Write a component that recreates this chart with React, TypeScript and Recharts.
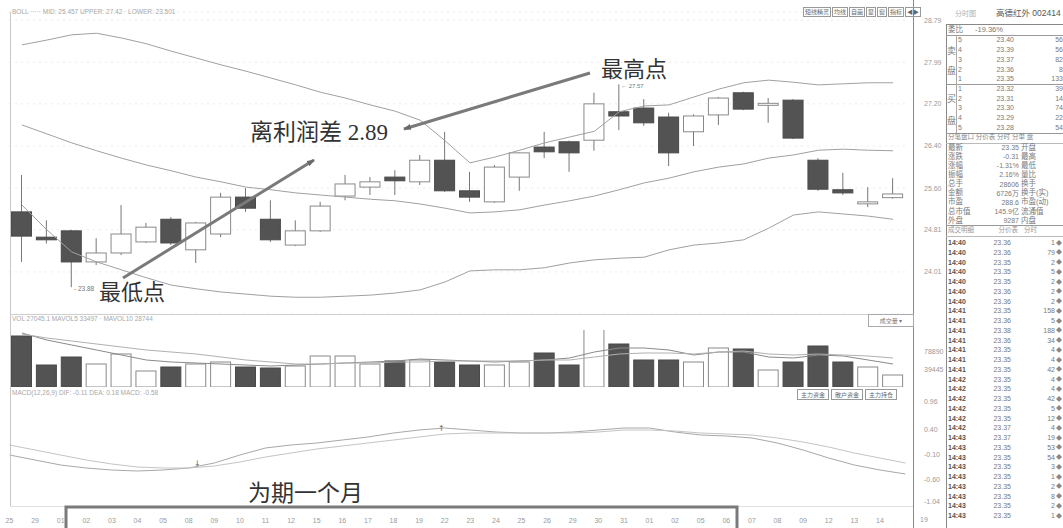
import React from 'react';
import { ComposedChart, Bar, Line, XAxis, YAxis, CartesianGrid } from 'recharts';

// ---------- data ----------
const dates = ["25","29","01","02","03","04","05","08","09","10","11","12","15","16","17","18","19","22","23","24","25","26","29","30","31","01","02","05","06","07","08","09","12","13","14",""];
const opens = [25.15,24.67,24.79,24.20,24.37,24.58,25.01,24.43,24.73,25.43,25.01,24.52,24.79,25.45,25.62,25.81,25.72,26.13,25.55,25.34,25.81,26.38,26.48,26.51,27.05,27.12,26.95,26.67,26.99,27.41,27.19,27.27,26.13,25.57,25.32,25.42];
const closes = [24.69,24.62,24.20,24.37,24.73,24.86,24.56,24.94,25.43,25.22,24.62,24.79,25.26,25.68,25.72,25.74,26.13,25.55,25.43,26.00,26.27,26.29,26.27,27.20,26.97,26.84,26.27,26.97,27.31,27.10,27.21,26.55,25.58,25.51,25.34,25.49];
const highs = [25.85,24.99,24.81,24.65,25.28,24.94,25.05,24.96,25.51,25.60,25.37,24.99,25.34,25.85,25.81,25.94,26.23,26.67,25.91,26.04,26.28,26.67,26.50,27.41,27.57,27.29,27.03,27.00,27.33,27.43,27.31,27.29,26.17,25.89,25.62,25.79];
const lows = [24.20,24.55,23.72,24.14,24.33,24.56,24.52,24.18,24.67,25.15,24.58,24.50,24.77,25.37,25.47,25.47,25.66,25.53,25.34,25.32,25.55,26.17,25.91,26.31,26.70,26.78,26.02,26.40,26.80,27.08,26.84,26.53,25.55,25.47,25.24,25.40];
const upperBand = [28.32,28.41,28.51,28.54,28.45,28.34,28.20,28.07,27.94,27.82,27.69,27.56,27.42,27.31,27.18,27.06,26.89,26.50,26.08,26.19,26.32,26.46,26.57,26.68,27.05,27.16,27.18,27.33,27.48,27.60,27.65,27.61,27.56,27.58,27.60,27.60];
const midBand = [26.80,26.63,26.46,26.31,26.17,26.04,25.93,25.81,25.72,25.62,25.57,25.51,25.47,25.43,25.39,25.36,25.30,25.22,25.13,25.15,25.19,25.28,25.36,25.45,25.57,25.70,25.79,25.91,26.00,26.06,26.17,26.23,26.32,26.34,26.32,26.31];
const lowerBand = [25.28,24.81,24.39,24.20,24.05,23.90,23.76,23.69,23.63,23.59,23.55,23.53,23.53,23.55,23.57,23.61,23.67,23.82,24.03,24.05,24.05,24.09,24.18,24.24,24.27,24.29,24.43,24.52,24.56,24.62,24.84,25.09,25.15,25.11,25.07,25.01];
const volumes = [114950,49590,67620,51840,74380,36060,45080,51840,56350,45080,42830,47330,69870,69870,51840,58600,60860,56350,49590,49590,56350,76640,49590,137490,96920,60860,60860,56350,87910,85650,38320,56350,92410,56350,45080,27045];
const mavol5 = [121716,105938,94668,83398,72128,60858,56350,54096,51842,49588,47334,49588,51842,54096,56350,58604,63112,60858,58604,56350,58604,60858,65366,78890,87906,87906,83398,72128,78890,78890,67620,65366,72128,69874,60858,51842];
const mavol10 = [119462,110446,103684,96922,90160,83398,78890,74382,67620,60858,56350,51842,51842,54096,54096,56350,56350,58604,58604,58604,58604,60858,60858,67620,74382,76636,76636,74382,78890,81144,74382,72128,74382,72128,69874,65366];
const difLine = [-0.10,-0.20,-0.30,-0.36,-0.40,-0.42,-0.40,-0.36,-0.26,-0.10,0.04,0.10,0.14,0.20,0.26,0.34,0.40,0.44,0.40,0.36,0.34,0.34,0.36,0.40,0.44,0.44,0.36,0.30,0.28,0.24,0.14,0.00,-0.16,-0.30,-0.40,-0.48];
const deaLine = [0.10,0.00,-0.10,-0.20,-0.28,-0.34,-0.36,-0.36,-0.32,-0.24,-0.14,-0.06,0.02,0.08,0.14,0.20,0.26,0.32,0.34,0.34,0.34,0.34,0.34,0.36,0.40,0.40,0.38,0.34,0.32,0.30,0.24,0.16,0.06,-0.06,-0.16,-0.26];

const priceTicks = [24.01, 24.81, 25.60, 26.40, 27.20, 27.99, 28.79];
const volTicks = [39445, 78890];
const macdTicks = [0.96, 0.40, -0.10, -0.60, -1.04];

const sellOrders = [["5","23.40","56"],["4","23.39","56"],["3","23.37","82"],["2","23.36","8"],["1","23.35","133"]];
const buyOrders = [["1","23.32","39"],["2","23.31","14"],["3","23.30","74"],["4","23.29","22"],["5","23.28","54"]];
const statRows = [["最新","23.35","开盘"],["涨跌","-0.31","最高"],["涨幅","-1.31%","最低"],["振幅","2.16%","量比"],["总手","28606","换手"],["金额","6726万","换手(实)"],["市盈","288.6","市盈(动)"],["总市值","145.9亿","流通值"],["外盘","9287","内盘"]];
const tradeRows = [
  ["14:40","23.36","1"],["14:40","23.36","79"],["14:40","23.35","2"],["14:40","23.35","5"],["14:40","23.35","2"],
  ["14:40","23.36","2"],["14:40","23.36","2"],["14:41","23.35","158"],["14:41","23.36","5"],["14:41","23.38","188"],
  ["14:41","23.36","34"],["14:41","23.35","4"],["14:41","23.35","4"],["14:41","23.35","42"],["14:42","23.35","4"],
  ["14:42","23.35","4"],["14:42","23.35","42"],["14:42","23.35","5"],["14:42","23.35","12"],["14:42","23.37","4"],
  ["14:43","23.37","19"],["14:43","23.35","53"],["14:43","23.35","54"],["14:43","23.35","3"],["14:43","23.35","1"],
  ["14:43","23.35","2"],["14:43","23.35","8"],["14:43","23.35","2"],["14:43","23.35","1"]
];
const toolButtons = ["短线精灵","均线","自画","复","窗","指标","◀▶"];
const macdButtons = ["主力资金","散户资金","主力持仓"];

const rows = dates.map((d, i) => ({
  label: d,
  open: opens[i], close: closes[i], high: highs[i], low: lows[i],
  range: [lows[i], highs[i]],
  upper: upperBand[i], mid: midBand[i], lower: lowerBand[i],
  vol: volumes[i], ma5: mavol5[i], ma10: mavol10[i],
  dif: difLine[i], dea: deaLine[i],
}));

// ---------- shapes ----------
const DARK = '#535353';
const Candle = (props: any) => {
  const { x, y, width, height, payload } = props;
  if (x == null || y == null) return null;
  const top = Math.min(y, y + height);
  const h = Math.abs(height);
  const { open, close, high, low } = payload;
  const span = high - low;
  const py = (v: number) => (span > 0 ? top + ((high - v) / span) * h : top);
  const cx = x + width / 2;
  const bTop = py(Math.max(open, close));
  const bBot = py(Math.min(open, close));
  const bh = Math.max(bBot - bTop, 2);
  const up = close >= open;
  return (
    <g>
      <line x1={cx} x2={cx} y1={top} y2={top + h} stroke="#777" strokeWidth={1} />
      <rect x={x} y={bTop} width={width} height={bh} fill={up ? '#fff' : DARK} stroke={up ? '#8a8a8a' : '#4a4a4a'} strokeWidth={1} />
    </g>
  );
};
const VolBar = (props: any) => {
  const { x, y, width, height, payload } = props;
  if (x == null || y == null) return null;
  const up = payload.close >= payload.open;
  const top = Math.min(y, y + height);
  return <rect x={x} y={top} width={width} height={Math.abs(height)} fill={up ? '#fff' : DARK} stroke={up ? '#8a8a8a' : '#4a4a4a'} strokeWidth={1} />;
};

// plot spans x 9.5 .. 905.5 ; right axis line drawn at 913
const ML = 9.5;
const YW = 39.5;
const YTM = 12.5;
const tickStyle = { fontSize: 7, fill: '#9a9a9a', fontFamily: 'Liberation Sans, DejaVu Sans, sans-serif' };

const Txt = ({ x, y, children, size = 7, color = '#7a7a7a', right = false, weight = 400, family }: any) => (
  <div style={{
    position: 'absolute', top: y - size * 0.55, lineHeight: 1, fontSize: size, color, whiteSpace: 'nowrap', fontWeight: weight,
    fontFamily: family || 'Liberation Sans, "Noto Sans CJK SC", sans-serif',
    ...(right ? { right: 1063 - x } : { left: x }),
  }}>{children}</div>
);

const HLine = ({ x1, x2, y, color = '#999', w = 1 }: any) => (
  <div style={{ position: 'absolute', left: x1, top: y, width: x2 - x1, height: w, background: color }} />
);
const VLine = ({ x, y1, y2, color = '#999', w = 1 }: any) => (
  <div style={{ position: 'absolute', left: x, top: y1, width: w, height: y2 - y1, background: color }} />
);

const SERIF = '"Liberation Serif", "Noto Sans CJK SC", serif';

export default function App() {
  return (
    <div style={{ position: 'absolute', left: 0, top: 0, width: 1063, height: 528, background: '#fff', overflow: 'hidden', fontFamily: 'Liberation Sans, sans-serif' }}>
      {/* main price panel */}
      <div style={{ position: 'absolute', left: 0, top: 0 }}>
        <ComposedChart width={945} height={314} data={rows} margin={{ top: 12, right: 0, bottom: 0, left: ML }}>
          <CartesianGrid horizontal vertical={false} stroke="#d8d8d8" strokeDasharray="1 5" />
          <XAxis dataKey="label" hide />
          <YAxis orientation="right" width={YW} domain={[23.212, 28.943]} ticks={priceTicks} allowDataOverflow
            axisLine={false} tickLine={false} tickMargin={YTM} tick={tickStyle} tickFormatter={(v: number) => v.toFixed(2)} />
          <Line dataKey="upper" type="linear" stroke="#a0a0a0" strokeWidth={1} dot={false} isAnimationActive={false} />
          <Line dataKey="mid" type="linear" stroke="#a0a0a0" strokeWidth={1} dot={false} isAnimationActive={false} />
          <Line dataKey="lower" type="linear" stroke="#a0a0a0" strokeWidth={1} dot={false} isAnimationActive={false} />
          <Bar dataKey="range" barSize={20} shape={<Candle />} isAnimationActive={false} />
        </ComposedChart>
      </div>

      {/* volume panel */}
      <div style={{ position: 'absolute', left: 0, top: 314 }}>
        <ComposedChart width={945} height={73} data={rows} margin={{ top: 16, right: 0, bottom: 0, left: ML }}>
          <XAxis dataKey="label" hide />
          <YAxis orientation="right" width={YW} domain={[0, 128480]} ticks={volTicks} allowDataOverflow
            axisLine={false} tickLine={false} tickMargin={YTM} tick={tickStyle} />
          <Bar dataKey="vol" barSize={20} shape={<VolBar />} isAnimationActive={false} />
          <Line dataKey="ma5" type="linear" stroke="#8a8a8a" strokeWidth={1} dot={false} isAnimationActive={false} />
          <Line dataKey="ma10" type="linear" stroke="#b0b0b0" strokeWidth={1} dot={false} isAnimationActive={false} />
        </ComposedChart>
      </div>

      {/* MACD panel + date axis */}
      <div style={{ position: 'absolute', left: 0, top: 387 }}>
        <ComposedChart width={945} height={141} data={rows} margin={{ top: 13, right: 0, bottom: 0, left: ML }}>
          <XAxis dataKey="label" interval={0} height={22} axisLine={false} tickLine={false} tickMargin={6} tick={tickStyle} />
          <YAxis orientation="right" width={YW} domain={[-1.12, 1.0]} ticks={macdTicks} allowDataOverflow
            axisLine={false} tickLine={false} tickMargin={YTM} tick={tickStyle} tickFormatter={(v: number) => v.toFixed(2)} />
          <Line dataKey="dif" type="linear" stroke="#a8a8a8" strokeWidth={1} dot={false} isAnimationActive={false} />
          <Line dataKey="dea" type="linear" stroke="#c4c4c4" strokeWidth={1} dot={false} isAnimationActive={false} />
        </ComposedChart>
      </div>

      {/* frame lines */}
      <VLine x={10} y1={12} y2={506} color="#c8c8c8" />
      <VLine x={913} y1={0} y2={528} color="#8a8a8a" />
      <HLine x1={10} x2={913} y={314} color="#cfcfcf" />
      <HLine x1={10} x2={913} y={506} color="#e0e0e0" />

      {/* headers */}
      <Txt x={12} y={13} size={6.5} color="#a8a8a8">BOLL ·····  MID: 25.457  UPPER: 27.42 · LOWER: 23.501</Txt>
      <Txt x={12} y={320} size={6.5} color="#a8a8a8">VOL 27045.1  MAVOL5 33497 · MAVOL10 28744</Txt>
      <Txt x={12} y={394} size={6.5} color="#a8a8a8">MACD(12,26,9)  DIF: -0.11  DEA: 0.18  MACD: -0.58</Txt>

      {/* toolbar */}
      <div style={{ position: 'absolute', left: 803, top: 7, display: 'flex', gap: 1 }}>
        {toolButtons.map((b, i) => (
          <div key={i} style={{ border: '1px solid #999', fontSize: 6, lineHeight: '8px', padding: '0 1px', color: '#666', fontFamily: '"Noto Sans CJK SC", sans-serif' }}>{b}</div>
        ))}
      </div>
      <div style={{ position: 'absolute', left: 868, top: 314, width: 44, height: 11, border: '1px solid #aaa', fontSize: 6, lineHeight: '11px', color: '#777', textAlign: 'center', fontFamily: '"Noto Sans CJK SC", sans-serif' }}>成交量 ▾</div>
      <div style={{ position: 'absolute', left: 797, top: 389, display: 'flex', gap: 2 }}>
        {macdButtons.map((b, i) => (
          <div key={i} style={{ border: '1px solid #999', fontSize: 6, lineHeight: '9px', padding: '0 3px', color: '#666', fontFamily: '"Noto Sans CJK SC", sans-serif' }}>{b}</div>
        ))}
      </div>

      {/* annotations */}
      <svg width={1063} height={528} style={{ position: 'absolute', left: 0, top: 0, pointerEvents: 'none' }}>
        <defs>
          <marker id="ah" markerWidth="8" markerHeight="6" refX="7" refY="3" orient="auto" markerUnits="userSpaceOnUse">
            <path d="M0,0 L8,3 L0,6 Z" fill="#6a6a6a" />
          </marker>
        </defs>
        <line x1={590} y1={73} x2={404} y2={129} stroke="#7a7a7a" strokeWidth={3} markerEnd="url(#ah)" />
        <line x1={123} y1={278} x2={314} y2={160} stroke="#7a7a7a" strokeWidth={3} markerEnd="url(#ah)" />
        <text x={250} y={140} fontSize={23} fill="#333" fontFamily={SERIF}>离利润差 2.89</text>
        <text x={99} y={300} fontSize={22} fill="#333" fontFamily={SERIF}>最低点</text>
        <text x={601} y={77} fontSize={22} fill="#333" fontFamily={SERIF}>最高点</text>
        <text x={248} y={501} fontSize={23} fill="#333" fontFamily={SERIF}>为期一个月</text>
        <text x={621} y={88} fontSize={6} fill="#777" fontFamily="Liberation Sans, sans-serif">← 27.57</text>
        <text x={74} y={291} fontSize={6.5} fill="#777" fontFamily="Liberation Sans, sans-serif">- 23.88</text>
        <text x={194} y={466} fontSize={8} fill="#666" fontFamily="DejaVu Sans, sans-serif">↓</text>
        <text x={438} y={431} fontSize={8} fill="#666" fontFamily="DejaVu Sans, sans-serif">↑</text>
        <rect x={66} y={507} width={671} height={30} fill="none" stroke="#7a7a7a" strokeWidth={3} />
        <text x={920} y={522} fontSize={7} fill="#9a9a9a" fontFamily="Liberation Sans, sans-serif">19</text>
      </svg>

      {/* right panel */}
      <Txt x={955} y={14} size={7} color="#b0b0b0">分时图</Txt>
      <Txt x={996} y={14} size={8.5} color="#555">高德红外 002414</Txt>
      <div style={{ position: 'absolute', left: 946, top: 24, width: 120, height: 510, borderLeft: '1px solid #888', borderTop: '1px solid #888' }} />
      <HLine x1={946} x2={1063} y={35} color="#999" />
      <HLine x1={946} x2={1063} y={84} color="#999" />
      <HLine x1={946} x2={1063} y={133} color="#999" />
      <HLine x1={946} x2={1063} y={143} color="#bbb" />
      <HLine x1={946} x2={1063} y={225} color="#999" />
      <HLine x1={946} x2={1063} y={236} color="#bbb" />
      <VLine x={956} y1={35} y2={133} color="#aaa" />
      <Txt x={948} y={30} size={7.5}>委比</Txt>
      <Txt x={975} y={30} size={7.5}>-19.36%</Txt>
      <Txt x={947} y={52} size={9} color="#777">卖</Txt>
      <Txt x={947} y={72} size={9} color="#777">盘</Txt>
      <Txt x={947} y={100} size={9} color="#777">买</Txt>
      <Txt x={947} y={122} size={9} color="#777">盘</Txt>
      {sellOrders.map((r, i) => (
        <React.Fragment key={'s' + i}>
          <Txt x={958} y={40 + i * 9.8} size={7}>{r[0]}</Txt>
          <Txt x={1014} y={40 + i * 9.8} size={7} right>{r[1]}</Txt>
          <Txt x={1063} y={40 + i * 9.8} size={7} right>{r[2]}</Txt>
        </React.Fragment>
      ))}
      {buyOrders.map((r, i) => (
        <React.Fragment key={'b' + i}>
          <Txt x={958} y={89 + i * 9.6} size={7}>{r[0]}</Txt>
          <Txt x={1014} y={89 + i * 9.6} size={7} right>{r[1]}</Txt>
          <Txt x={1063} y={89 + i * 9.6} size={7} right>{r[2]}</Txt>
        </React.Fragment>
      ))}
      <Txt x={948} y={138} size={6.5} color="#888">分笔盘口 分价表  分时  分单  盘</Txt>
      {statRows.map((r, i) => (
        <React.Fragment key={'t' + i}>
          <Txt x={948} y={148 + i * 9.1} size={7.5}>{r[0]}</Txt>
          <Txt x={1019} y={148 + i * 9.1} size={7} right>{r[1]}</Txt>
          <Txt x={1021} y={148 + i * 9.1} size={7.5}>{r[2]}</Txt>
        </React.Fragment>
      ))}
      <Txt x={948} y={231} size={6.5} color="#999">成交明细</Txt>
      <Txt x={1018} y={231} size={6.5} color="#999" right>分价表</Txt>
      <Txt x={1024} y={231} size={6.5} color="#999">分时</Txt>
      {tradeRows.map((r, i) => (
        <React.Fragment key={'r' + i}>
          <Txt x={948} y={243 + i * 9.75} size={7} color="#555" weight={700}>{r[0]}</Txt>
          <Txt x={1011} y={243 + i * 9.75} size={7} right>{r[1]}</Txt>
          <Txt x={1055} y={243 + i * 9.75} size={7} right>{r[2]}</Txt>
          <Txt x={1056} y={243 + i * 9.75} size={6} color="#888">◆</Txt>
        </React.Fragment>
      ))}
    </div>
  );
}
